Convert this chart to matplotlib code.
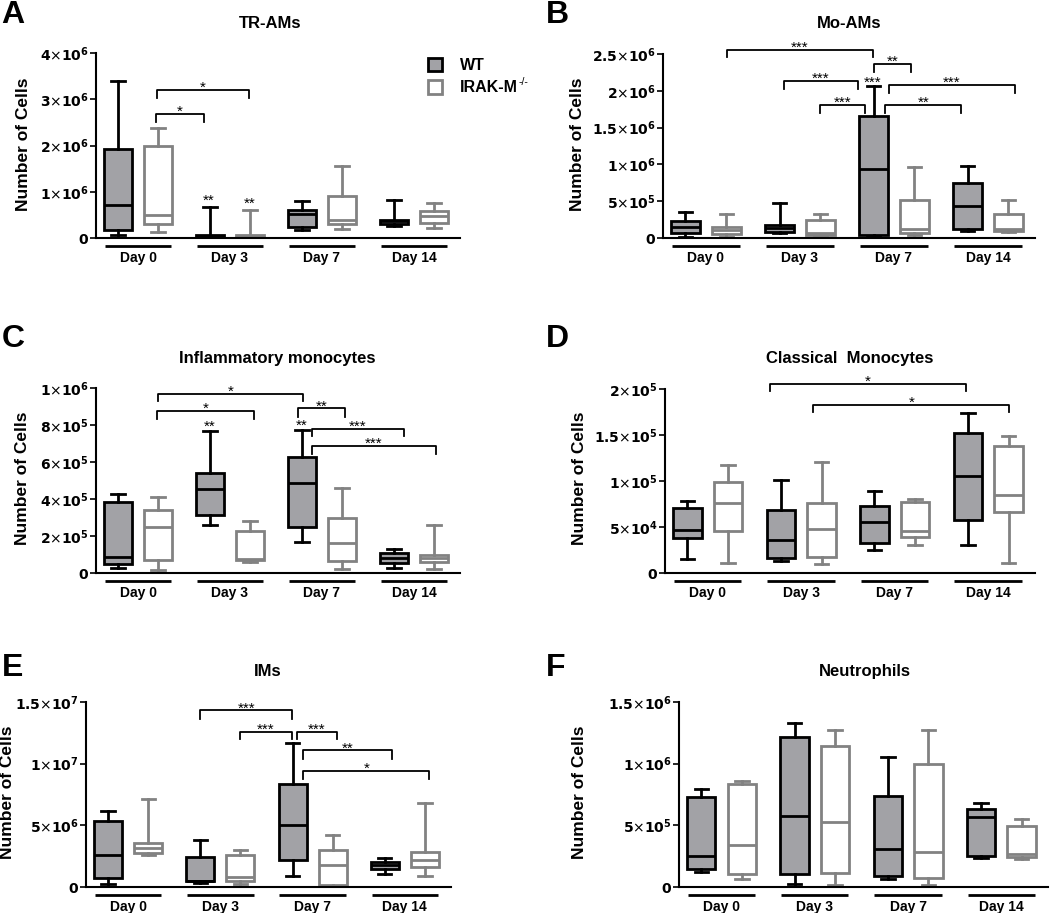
import numpy as np
import matplotlib
matplotlib.use('Agg')
import matplotlib.pyplot as plt
from matplotlib.patches import Patch
from matplotlib.transforms import blended_transform_factory

plt.rcParams['font.family'] = ['Liberation Sans', 'DejaVu Sans']
plt.rcParams['mathtext.fontset'] = 'dejavusans'

# ---------------- data ----------------
days = ['Day 0', 'Day 3', 'Day 7', 'Day 14']
group_names = ['WT', 'IRAK-M']
ko_superscript = '-/-'

# five-number summaries per day: [whisker low, Q1, median, Q3, whisker high]
tram_wt = [[0.06e6, 0.18e6, 0.72e6, 1.93e6, 3.39e6],
           [0.01e6, 0.02e6, 0.04e6, 0.07e6, 0.68e6],
           [0.18e6, 0.23e6, 0.52e6, 0.61e6, 0.80e6],
           [0.25e6, 0.31e6, 0.36e6, 0.40e6, 0.83e6]]
tram_ko = [[0.12e6, 0.30e6, 0.50e6, 2.00e6, 2.39e6],
           [0.02e6, 0.03e6, 0.05e6, 0.07e6, 0.61e6],
           [0.20e6, 0.30e6, 0.40e6, 0.92e6, 1.55e6],
           [0.22e6, 0.32e6, 0.47e6, 0.59e6, 0.76e6]]

moam_wt = [[0.02e6, 0.07e6, 0.145e6, 0.23e6, 0.35e6],
           [0.07e6, 0.08e6, 0.14e6, 0.18e6, 0.47e6],
           [0.02e6, 0.045e6, 0.94e6, 1.66e6, 2.07e6],
           [0.10e6, 0.12e6, 0.44e6, 0.75e6, 0.985e6]]
moam_ko = [[0.02e6, 0.055e6, 0.11e6, 0.15e6, 0.33e6],
           [0.03e6, 0.045e6, 0.07e6, 0.25e6, 0.32e6],
           [0.045e6, 0.07e6, 0.12e6, 0.52e6, 0.97e6],
           [0.08e6, 0.10e6, 0.12e6, 0.325e6, 0.51e6]]

inflam_wt = [[0.027e6, 0.05e6, 0.087e6, 0.385e6, 0.425e6],
             [0.262e6, 0.316e6, 0.452e6, 0.543e6, 0.765e6],
             [0.165e6, 0.246e6, 0.488e6, 0.626e6, 0.774e6],
             [0.027e6, 0.056e6, 0.083e6, 0.108e6, 0.132e6]]
inflam_ko = [[0.015e6, 0.069e6, 0.246e6, 0.34e6, 0.41e6],
             [0.06e6, 0.069e6, 0.078e6, 0.228e6, 0.28e6],
             [0.022e6, 0.065e6, 0.163e6, 0.298e6, 0.461e6],
             [0.022e6, 0.06e6, 0.081e6, 0.10e6, 0.262e6]]

classical_wt = [[0.156e5, 0.382e5, 0.465e5, 0.709e5, 0.778e5],
                [0.127e5, 0.167e5, 0.364e5, 0.68e5, 1.01e5],
                [0.247e5, 0.327e5, 0.553e5, 0.731e5, 0.895e5],
                [0.302e5, 0.575e5, 1.058e5, 1.527e5, 1.735e5]]
classical_ko = [[0.113e5, 0.455e5, 0.764e5, 0.989e5, 1.175e5],
                [0.10e5, 0.175e5, 0.473e5, 0.764e5, 1.21e5],
                [0.309e5, 0.393e5, 0.458e5, 0.775e5, 0.80e5],
                [0.113e5, 0.665e5, 0.847e5, 1.382e5, 1.484e5]]

ims_wt = [[0.27e6, 0.73e6, 2.57e6, 5.35e6, 6.16e6],
          [0.32e6, 0.45e6, 0.50e6, 2.43e6, 3.84e6],
          [0.86e6, 2.16e6, 5.05e6, 8.32e6, 11.68e6],
          [1.03e6, 1.49e6, 1.81e6, 2.03e6, 2.38e6]]
ims_ko = [[2.57e6, 2.78e6, 3.16e6, 3.57e6, 7.10e6],
          [0.22e6, 0.49e6, 0.81e6, 2.57e6, 2.97e6],
          [0.05e6, 0.14e6, 1.81e6, 3.03e6, 4.24e6],
          [0.89e6, 1.62e6, 2.22e6, 2.84e6, 6.84e6]]

neut_wt = [[0.122e6, 0.144e6, 0.253e6, 0.728e6, 0.793e6],
           [0.027e6, 0.103e6, 0.579e6, 1.217e6, 1.326e6],
           [0.0625e6, 0.09e6, 0.307e6, 0.739e6, 1.052e6],
           [0.239e6, 0.253e6, 0.565e6, 0.633e6, 0.679e6]]
neut_ko = [[0.0625e6, 0.109e6, 0.34e6, 0.837e6, 0.861e6],
           [0.014e6, 0.117e6, 0.524e6, 1.141e6, 1.272e6],
           [0.014e6, 0.076e6, 0.285e6, 0.997e6, 1.272e6],
           [0.228e6, 0.245e6, 0.264e6, 0.495e6, 0.549e6]]

# y ticks
tram_ticks = [0, 1e6, 2e6, 3e6, 4e6]
moam_ticks = [0, 5e5, 1e6, 1.5e6, 2e6, 2.5e6]
inflam_ticks = [0, 2e5, 4e5, 6e5, 8e5, 1e6]
classical_ticks = [0, 5e4, 1e5, 1.5e5, 2e5]
ims_ticks = [0, 5e6, 1e7, 1.5e7]
neut_ticks = [0, 5e5, 1e6, 1.5e6]

# significance brackets: (x left, x right, height, left leg end, right leg end, label)
tram_brackets = [(0.45, 1.66, 2.69e6, 2.52e6, 2.52e6, '*'),
                 (0.47, 2.78, 3.21e6, 3.03e6, 3.03e6, '*')]
tram_marks = [(1.76, 0.72e6, '**'), (2.78, 0.65e6, '**')]

moam_brackets = [(0.51, 4.09, 2.555e6, 2.455e6, 2.455e6, '***'),
                 (4.10, 5.02, 2.364e6, 2.26e6, 2.26e6, '**'),
                 (1.90, 3.72, 2.134e6, 2.02e6, 2.02e6, '***'),
                 (2.80, 3.88, 1.81e6, 1.70e6, 1.70e6, '***'),
                 (4.47, 7.55, 2.08e6, 1.97e6, 1.97e6, '***'),
                 (4.39, 6.24, 1.81e6, 1.70e6, 1.70e6, '**')]
moam_marks = [(4.07, 2.05e6, '***')]

inflam_brackets = [(0.51, 4.13, 0.969e6, 0.928e6, 0.928e6, '*'),
                   (0.47, 2.90, 0.875e6, 0.834e6, 0.834e6, '*'),
                   (4.00, 5.17, 0.890e6, 0.845e6, 0.845e6, '**'),
                   (4.34, 6.66, 0.779e6, 0.738e6, 0.738e6, '***'),
                   (4.34, 7.44, 0.687e6, 0.644e6, 0.644e6, '***')]
inflam_marks = [(1.78, 0.768e6, '**'), (4.09, 0.774e6, '**')]

classical_brackets = [(1.53, 6.35, 2.058e5, 1.975e5, 1.975e5, '*'),
                      (2.60, 7.42, 1.825e5, 1.745e5, 1.745e5, '*')]
classical_marks = []

ims_brackets = [(1.80, 4.09, 14.32e6, 13.65e6, 13.65e6, '***'),
                (2.78, 4.09, 12.57e6, 11.97e6, 11.97e6, '***'),
                (4.20, 5.22, 12.57e6, 11.97e6, 11.97e6, '***'),
                (4.37, 6.59, 11.08e6, 10.40e6, 10.40e6, '**'),
                (4.37, 7.51, 9.40e6, 8.78e6, 8.78e6, '*')]
ims_marks = []

neut_brackets = []
neut_marks = []

# ---------------- styling / layout ----------------
W, H = 1050, 913
WT_FACE = '#a2a2a6'
KO_EDGE = '#828282'
LW = 2.0
GROUP_STEP = 2.3
OFFSET = 0.5
XLIM = (-1.05, 8.05)

fig = plt.figure(figsize=(W / 100, H / 100), dpi=100)


def sci(v):
    if v == 0:
        return r'$\mathbf{0}$'
    e = int(np.floor(np.log10(v) + 1e-9))
    m = round(v / 10 ** e, 2)
    return r'$\mathbf{%s}{\times}\mathbf{10}^{\mathbf{%d}}$' % ('%g' % m, e)


def add_axes(l, t, r, b):
    return fig.add_axes([l / W, 1 - b / H, (r - l) / W, (b - t) / H])


def stats_of(rows):
    return [dict(whislo=s[0], q1=s[1], med=s[2], q3=s[3], whishi=s[4]) for s in rows]


def panel(rect, wt, ko, ticks, title, title_xy, letter, letter_xy, ylab_xy,
          brackets, marks):
    ax = add_axes(*rect)
    centers = [GROUP_STEP * g for g in range(len(days))]
    wt_pos = [c - OFFSET for c in centers]
    ko_pos = [c + OFFSET for c in centers]
    ax.bxp(stats_of(wt), positions=wt_pos, widths=0.7, capwidths=0.33,
           patch_artist=True, showfliers=False, manage_ticks=False,
           boxprops=dict(facecolor=WT_FACE, edgecolor='black', linewidth=LW),
           medianprops=dict(color='black', linewidth=LW),
           whiskerprops=dict(color='black', linewidth=LW),
           capprops=dict(color='black', linewidth=LW))
    ax.bxp(stats_of(ko), positions=ko_pos, widths=0.7, capwidths=0.33,
           patch_artist=True, showfliers=False, manage_ticks=False,
           boxprops=dict(facecolor='white', edgecolor=KO_EDGE, linewidth=LW),
           medianprops=dict(color=KO_EDGE, linewidth=LW),
           whiskerprops=dict(color=KO_EDGE, linewidth=LW),
           capprops=dict(color=KO_EDGE, linewidth=LW))
    ax.set_xlim(*XLIM)
    ax.set_ylim(0, ticks[-1])
    for s in ['top', 'right']:
        ax.spines[s].set_visible(False)
    for s in ['left', 'bottom']:
        ax.spines[s].set_linewidth(1.5)
    ax.set_yticks(ticks, [sci(v) for v in ticks])
    ax.tick_params(axis='y', direction='out', length=4, width=1.2, pad=1,
                   labelsize=10)
    ax.set_xticks(centers, days, fontweight='bold', fontsize=10)
    ax.tick_params(axis='x', length=0, pad=9.5)
    ax.patch.set_alpha(0)
    # day underline bars
    trans = blended_transform_factory(ax.transData, ax.transAxes)
    axh = rect[3] - rect[1]
    for c in centers:
        ax.plot([c - 0.83, c + 0.83], [-8 / axh, -8 / axh], color='black',
                lw=2.0, transform=trans, clip_on=False, solid_capstyle='butt')
    # significance
    for x1, x2, h, e1, e2, lab in brackets:
        ax.plot([x1, x1, x2, x2], [e1, h, h, e2], color='black', lw=1.3,
                clip_on=False)
        ax.annotate(lab, ((x1 + x2) / 2, h), xytext=(0, -1.5),
                    textcoords='offset points', ha='center', va='baseline',
                    fontsize=11, annotation_clip=False)
    for x, y, lab in marks:
        ax.text(x, y, lab, ha='center', va='baseline', fontsize=11,
                clip_on=False)
    fig.text(title_xy[0] / W, 1 - title_xy[1] / H, title, ha='center',
             va='baseline', fontsize=12, fontweight='bold')
    fig.text(letter_xy[0] / W, 1 - letter_xy[1] / H, letter, ha='left',
             va='baseline', fontsize=23, fontweight='bold')
    fig.text(ylab_xy[0] / W, 1 - ylab_xy[1] / H, 'Number of Cells',
             rotation=90, ha='center', va='center', fontsize=12.5,
             fontweight='bold')
    return ax


axA = panel((96, 53.3, 460, 238), tram_wt, tram_ko, tram_ticks, 'TR-AMs',
            (270, 28), 'A', (1, 23), (24, 144), tram_brackets, tram_marks)
axB = panel((663, 54, 1035, 238), moam_wt, moam_ko, moam_ticks, 'Mo-AMs',
            (849, 28), 'B', (546, 23), (578, 144), moam_brackets, moam_marks)
axC = panel((96, 388, 460, 573), inflam_wt, inflam_ko, inflam_ticks,
            'Inflammatory monocytes', (277, 363), 'C', (2, 347), (23, 478),
            inflam_brackets, inflam_marks)
axD = panel((665, 389, 1035, 573), classical_wt, classical_ko, classical_ticks,
            'Classical  Monocytes', (850, 363), 'D', (546, 347), (579, 478),
            classical_brackets, classical_marks)
axE = panel((86, 702, 451, 887), ims_wt, ims_ko, ims_ticks, 'IMs',
            (268, 676), 'E', (2, 676), (8, 792), ims_brackets, ims_marks)
axF = panel((679, 702, 1048, 887), neut_wt, neut_ko, neut_ticks, 'Neutrophils',
            (865, 676), 'F', (546, 676), (580, 792), neut_brackets, neut_marks)

handles = [Patch(facecolor=WT_FACE, edgecolor='black', linewidth=LW),
           Patch(facecolor='white', edgecolor=KO_EDGE, linewidth=LW)]
leg = axA.legend(handles, group_names, loc='upper left',
                 bbox_to_anchor=(428 / W, 1 - 58 / H),
                 bbox_transform=fig.transFigure, frameon=False,
                 borderpad=0, borderaxespad=0, handlelength=0.9,
                 handleheight=0.9, handletextpad=1.1, labelspacing=0.45,
                 prop=dict(weight='bold', size=11.5))

# superscript after the knockout label
fig.canvas.draw()
bb = leg.get_texts()[1].get_window_extent(renderer=fig.canvas.get_renderer())
fig.text((bb.x1 + 1) / W, (bb.y1 - 5) / H, ko_superscript, fontsize=7.5,
         ha='left', va='baseline')

fig.savefig('out.png', dpi=100)
